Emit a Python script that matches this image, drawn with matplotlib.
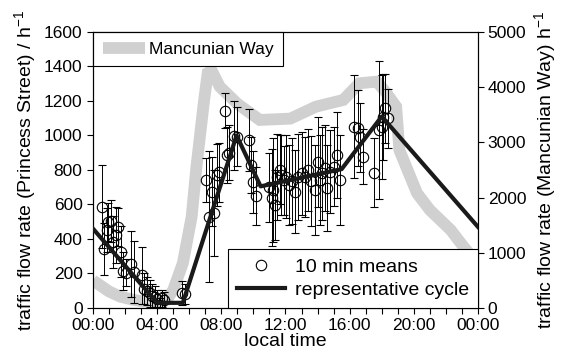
import matplotlib
matplotlib.use("Agg")
import matplotlib.pyplot as plt
from matplotlib.lines import Line2D
from matplotlib.ticker import MultipleLocator, FixedLocator

plt.rcParams['font.family'] = ['Liberation Sans', 'DejaVu Sans']
plt.rcParams['mathtext.fontset'] = 'custom'
plt.rcParams['mathtext.rm'] = 'Liberation Sans'
plt.rcParams['mathtext.it'] = 'Liberation Sans'

# 10-min means (Princess Street): hour of day, mean, half error bar
mean_hours = [0.55, 0.70, 0.85, 0.95, 1.10, 1.25, 1.45, 1.55, 1.75, 1.85, 2.05, 2.35, 2.55,
              3.05, 3.20, 3.35, 3.55, 3.70, 3.85, 4.00, 4.15, 4.30, 4.45, 5.55, 5.75,
              7.05, 7.25, 7.40, 7.55, 7.70, 7.85, 8.20, 8.35, 8.50, 8.80, 8.95,
              9.70, 9.85, 9.95, 10.15,
              11.00, 11.15, 11.25, 11.35, 11.50, 11.65, 11.75, 11.90, 12.05, 12.20, 12.40,
              12.60, 12.80, 13.00, 13.20, 13.40, 13.60, 13.85, 14.00, 14.15, 14.30, 14.45,
              14.60, 14.80, 15.00, 15.20, 15.40,
              16.30, 16.50, 16.65, 16.85, 17.50, 17.85, 18.00, 18.10, 18.20, 18.40]
mean_values = [587, 340, 452, 500, 504, 384, 423, 470, 327, 215, 205, 255, 210,
               191, 112, 100, 85, 70, 66, 55, 20, 56, 46, 89, 81,
               742, 530, 674, 549, 771, 787, 1144, 887, 900, 997, 993,
               974, 829, 732, 649,
               700, 640, 684, 597, 760, 800, 771, 740, 761, 713, 735,
               674, 761, 780, 760, 800, 735, 684, 848, 742, 780, 810,
               694, 790, 820, 887, 742,
               1051, 1042, 990, 877, 784, 1032, 1050, 1109, 1157, 1099]
mean_errors = [240, 150, 130, 110, 120, 150, 160, 110, 150, 110, 80, 190, 180,
               165, 90, 80, 80, 70, 60, 50, 40, 50, 45, 70, 60,
               130, 380, 200, 250, 180, 170, 100, 160, 160, 200, 170,
               180, 160, 180, 170,
               200, 280, 300, 200, 250, 200, 230, 200, 240, 230, 250,
               240, 250, 240, 230, 240, 260, 260, 260, 260, 270, 250,
               250, 240, 230, 250, 260,
               300, 220, 200, 160, 200, 400, 300, 250, 200, 170]

# representative cycle (Princess Street)
cycle_hours = [0, 4.0, 5.6, 8.95, 10.45, 15.5, 18.0, 24]
cycle_values = [460, 30, 30, 1000, 705, 805, 1110, 470]

# Mancunian Way (right axis)
mw_hours = [0, 0.5, 1.0, 1.7, 2.5, 3.1, 4.0, 4.6, 5.0, 5.6, 6.15, 6.45, 6.9, 7.15, 7.4,
            7.9, 9.0, 10.4, 11.5, 12.3, 13.9, 15.6, 16.6, 17.7, 18.3, 18.9, 19.1,
            20.2, 21.0, 22.3, 23.1, 24]
mw_values = [500, 400, 300, 205, 150, 120, 115, 150, 326, 810, 1650, 2560, 3700, 4257, 4300,
             4010, 3700, 3406, 3420, 3430, 3647, 3768, 4070, 4100, 3890, 3647, 2860,
             2080, 1775, 1413, 1110, 800]

xtick_labels = ['00:00', '04:00', '08:00', '12:00', '16:00', '20:00', '00:00']

fig = plt.figure(figsize=(5.67, 3.63), dpi=100)
ax = fig.add_axes([0.164, 0.1515, 0.679, 0.7605])
ax2 = ax.twinx()
ax.set_zorder(ax2.get_zorder() + 1)
ax.patch.set_visible(False)

# Mancunian Way
ax2.plot(mw_hours, mw_values, color='#d0d0d0', lw=8.5, solid_joinstyle='miter',
         solid_capstyle='butt', label='Mancunian Way')
ax2.set_ylim(0, 5000)
ax2.yaxis.set_major_locator(MultipleLocator(1000))
ax2.tick_params(axis='y', direction='out', length=4, width=0.8, labelsize=12.5, pad=3)
ax2.set_ylabel('traffic flow rate (Mancunian Way) h$^{-1}$', fontsize=14, labelpad=4)
leg1 = ax2.legend(loc='upper left', borderaxespad=0, fancybox=False, framealpha=1,
                  edgecolor='black', fontsize=12.5, handlelength=2.45, handletextpad=0.2,
                  borderpad=0.55)
leg1.get_frame().set_linewidth(0.8)

# Princess Street means
ax.errorbar(mean_hours, mean_values, yerr=mean_errors, fmt='o', mfc='none', mec='black',
            mew=0.8, ms=7.5, ecolor='black', elinewidth=0.7, capsize=3.2, capthick=0.7,
            zorder=3)
ax.plot(cycle_hours, cycle_values, color='#1a1a1a', lw=3, zorder=4)

ax.set_xlim(0, 24)
ax.set_ylim(0, 1600)
ax.xaxis.set_major_locator(FixedLocator([0, 4, 8, 12, 16, 20, 24]))
ax.set_xticklabels(xtick_labels)
ax.xaxis.set_minor_locator(MultipleLocator(1))
ax.yaxis.set_major_locator(MultipleLocator(200))
ax.tick_params(axis='x', which='both', direction='out', length=4, width=0.8, labelsize=12.5)
ax.tick_params(axis='y', direction='out', length=4, width=0.8, labelsize=12.5)
ax.set_xlabel('local time', fontsize=14, labelpad=0)
ax.set_ylabel('traffic flow rate (Princess Street) / h$^{-1}$', fontsize=14, labelpad=4)

handles = [Line2D([], [], marker='o', ls='none', mfc='none', mec='black', mew=0.8, ms=7.5),
           Line2D([], [], color='#1a1a1a', lw=3)]
leg2 = ax.legend(handles, ['10 min means', 'representative cycle'], loc='lower right',
                 borderaxespad=0, fancybox=False, framealpha=1, edgecolor='black',
                 fontsize=14, handlelength=2.5, handletextpad=0.5, borderpad=0.45,
                 labelspacing=0.3)
leg2.get_frame().set_linewidth(0.8)
leg2.set_zorder(10)

for a in (ax, ax2):
    for s in a.spines.values():
        s.set_linewidth(0.8)

fig.savefig('out.png', dpi=100)
